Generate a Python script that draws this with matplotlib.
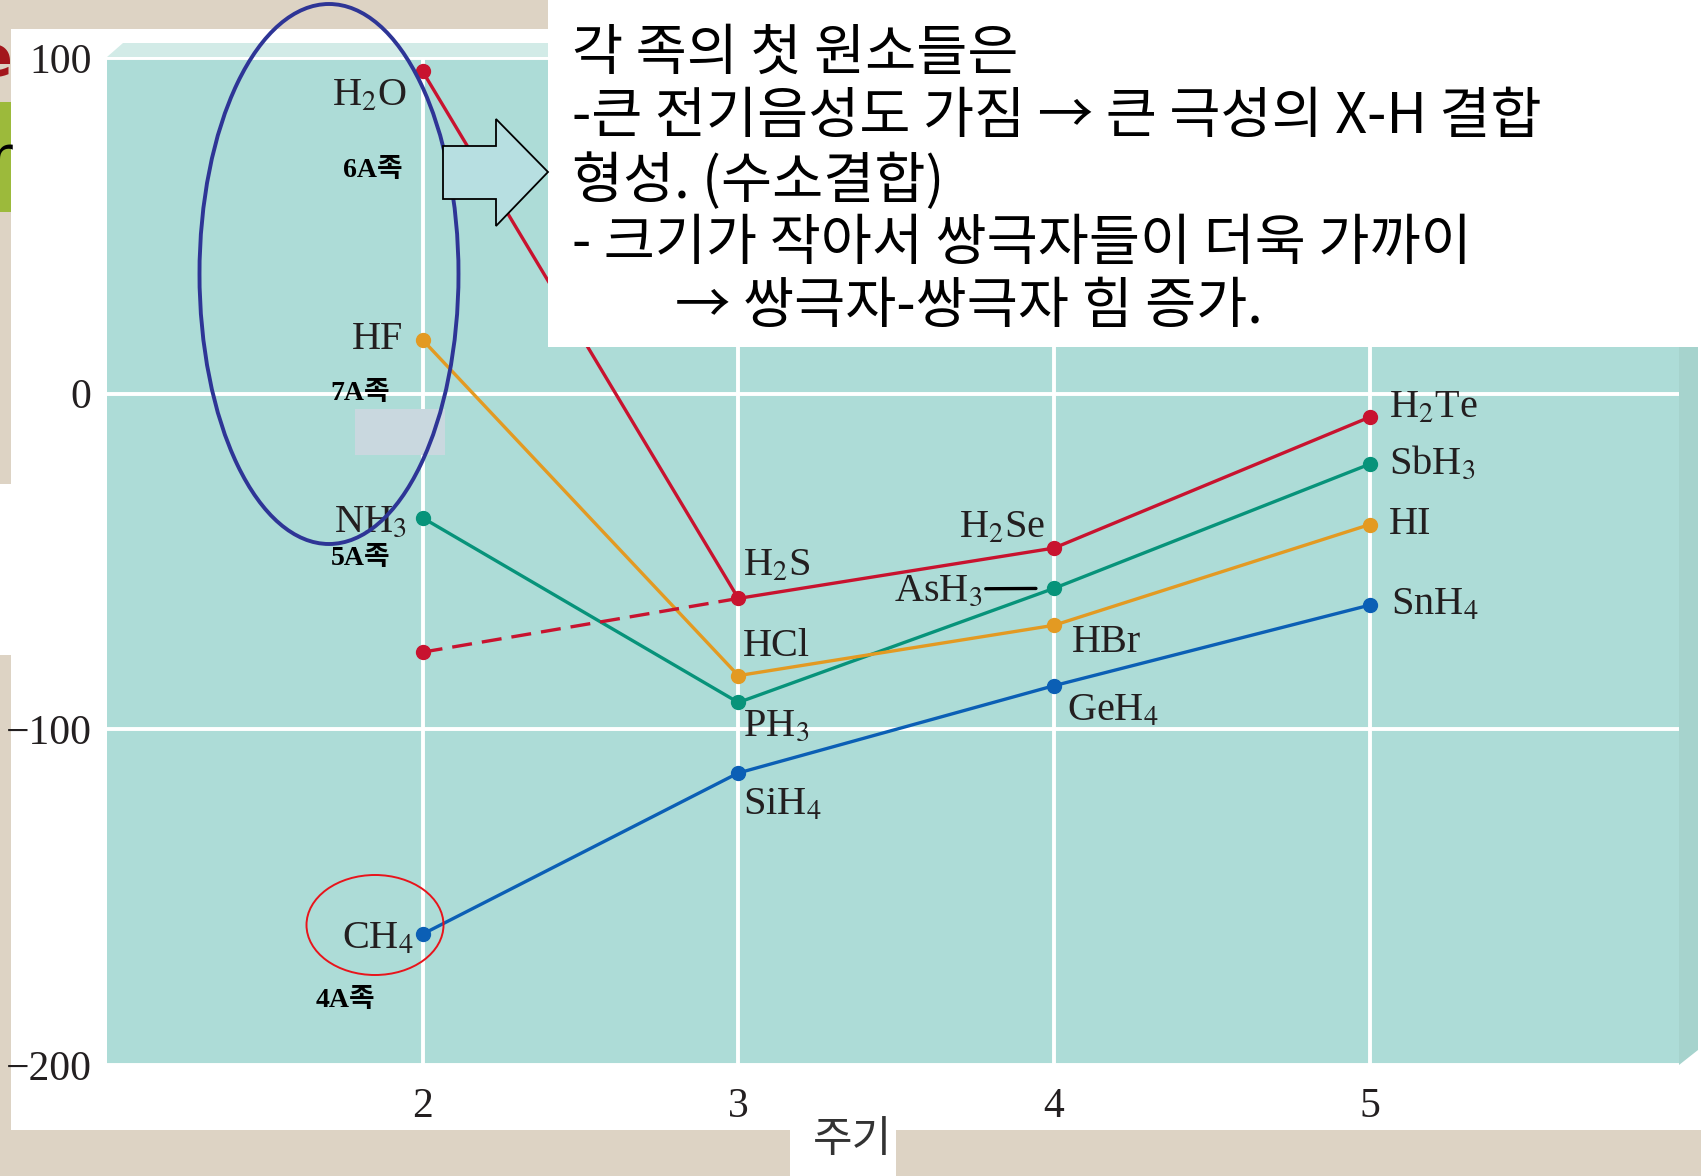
import matplotlib
matplotlib.use("Agg")
import matplotlib.pyplot as plt
from matplotlib.patches import Rectangle, Polygon, Ellipse

# Boiling points (deg C), periods 2-5
periods = [2, 3, 4, 5]
group4_bp = [-161, -113, -87, -63]
group5_bp = [-37, -92, -58, -21]
group6_bp = [96, -61, -46, -7]
group7_bp = [16, -84, -69, -39]
h2o_expected_bp = -77  # extrapolated value for H2O (dashed)

group4_names = ["CH$_4$", "SiH$_4$", "GeH$_4$", "SnH$_4$"]
group5_names = ["NH$_3$", "PH$_3$", "AsH$_3$", "SbH$_3$"]
group6_names = ["H$_2$O", "H$_2$S", "H$_2$Se", "H$_2$Te"]
group7_names = ["HF", "HCl", "HBr", "HI"]

group_tags = ["4A족", "5A족", "6A족", "7A족"]
y_ticks = [-200, -100, 0, 100]
x_label = "주기"

note_lines = [
    "각 족의 첫 원소들은",
    "-큰 전기음성도 가짐 → 큰 극성의 X-H 결합",
    "형성. (수소결합)",
    "- 크기가 작아서 쌍극자들이 더욱 가까이",
    "→ 쌍극자-쌍극자 힘 증가.",
]

COLORS = {
    "g4": "#0B5FB5",
    "g5": "#07937A",
    "g6": "#C8132F",
    "g7": "#E39A22",
}
TEAL = "#ADDCD7"
BEIGE = "#DDD3C4"
INK = "#231F20"

plt.rcParams["mathtext.fontset"] = "stix"
SERIF = ["Liberation Serif", "DejaVu Serif"]
KOR = ["Noto Sans CJK KR", "DejaVu Sans"]
TAG_FONT = ["Liberation Serif", "Noto Sans CJK KR"]

W, H = 1701, 1176
fig = plt.figure(figsize=(W / 100, H / 100), dpi=100, facecolor=BEIGE)


def fx(x):
    return x / W


def fy(y):
    return 1 - y / H


def px_rect(x0, y0, x1, y1, color, z):
    fig.add_artist(Rectangle((fx(x0), fy(y1)), fx(x1) - fx(x0), fy(y0) - fy(y1),
                             transform=fig.transFigure, facecolor=color,
                             edgecolor="none", zorder=z))


# slide background pieces
px_rect(11, 29, W, 1130, "white", -5)
px_rect(0, 102, 11, 212, "#9CBA3B", -5)
px_rect(0, 484, 11, 655, "white", -5)
fig.text(fx(12), fy(60), "e", color="#A3161C", fontsize=40, fontweight="bold",
         ha="right", va="center", family="DejaVu Sans", zorder=-4)
fig.text(fx(13), fy(160), "r", color="black", fontsize=40,
         ha="right", va="center", family="DejaVu Sans", zorder=-4)

# 3D top/right strips of the chart box
fig.add_artist(Polygon([(fx(123), fy(43)), (fx(W), fy(43)), (fx(W), fy(57)), (fx(107), fy(57))],
                       transform=fig.transFigure, facecolor="#D2EBE7", edgecolor="none", zorder=-3))
fig.add_artist(Polygon([(fx(1679), fy(57)), (fx(1698), fy(43)), (fx(1698), fy(1050)), (fx(1679), fy(1065))],
                       transform=fig.transFigure, facecolor="#A6D3CD", edgecolor="none", zorder=-3))

ax = fig.add_axes([fx(107), fy(1065), fx(1679) - fx(107), fy(58) - fy(1065)])
ax.set_facecolor(TEAL)
ax.set_xlim(1, 5.98)
ax.set_ylim(-200, 100)
for s in ax.spines.values():
    s.set_visible(False)
ax.set_xticks(periods)
ax.set_yticks(y_ticks)
ax.tick_params(length=0, labelsize=30, labelcolor=INK)
ax.tick_params(axis="y", pad=11)
ax.tick_params(axis="x", pad=16)
for lab in ax.get_xticklabels() + ax.get_yticklabels():
    lab.set_family(SERIF)
ax.grid(True, color="white", linewidth=2.8)
ax.set_axisbelow(True)

series = [
    (group4_bp, group4_names, COLORS["g4"]),
    (group5_bp, group5_names, COLORS["g5"]),
    (group6_bp, group6_names, COLORS["g6"]),
    (group7_bp, group7_names, COLORS["g7"]),
]
for vals, names, col in series:
    ax.plot(periods, vals, color=col, linewidth=2.4, marker="o", markersize=10, zorder=3)

ax.plot(periods[:2], [h2o_expected_bp, group6_bp[1]], color=COLORS["g6"], linewidth=2.4,
        linestyle=(0, (6, 3)), zorder=3)
ax.plot(periods[0], h2o_expected_bp, "o", color=COLORS["g6"], markersize=10, zorder=3)

# label offsets in pixels (dx, dy up), horizontal alignment
label_style = {
    "CH$_4$": (-9, -5, "right"), "SiH$_4$": (5, -32, "left"),
    "GeH$_4$": (13, -25, "left"), "SnH$_4$": (21, 0, "left"),
    "NH$_3$": (-16, -4, "right"), "PH$_3$": (5, -24, "left"),
    "SbH$_3$": (19, 0, "left"),
    "H$_2$O": (-16, -25, "right"), "H$_2$S": (5, 32, "left"),
    "H$_2$Se": (-9, 20, "right"), "H$_2$Te": (19, 9, "left"),
    "HF": (-19, 0, "right"), "HCl": (5, 29, "left"),
    "HBr": (18, -17, "left"), "HI": (19, 0, "left"),
}
for vals, names, col in series:
    for p, v, name in zip(periods, vals, names):
        if name == "AsH$_3$":
            ax.annotate(name, xy=(p, v), xytext=(-71 * 0.72, -3 * 0.72), textcoords="offset points",
                        ha="right", va="center", fontsize=29, color=INK, family=SERIF, zorder=4,
                        arrowprops=dict(arrowstyle="-", color="black", lw=2.4,
                                        relpos=(1, 0.57), shrinkA=0, shrinkB=13))
            continue
        dx, dy, ha = label_style[name]
        ax.annotate(name, xy=(p, v), xytext=(dx * 0.72, dy * 0.72), textcoords="offset points",
                    ha=ha, va="center", fontsize=29, color=INK, family=SERIF, zorder=4)

# group tags next to the period-2 hydrides
tag_pos = {"4A족": (318, 922), "5A족": (332, 515), "6A족": (344, 157), "7A족": (332, 363)}
for tag in group_tags:
    tx, ty = tag_pos[tag]
    fig.text(fx(tx * 1.0848), fy(ty * 1.0848), tag, fontsize=20, fontweight="bold",
             family=TAG_FONT, ha="center", va="center", color="black", zorder=4)

# small grey patch on the chart
px_rect(355, 409, 445, 455, "#C9D8DF", 2)

# x axis title on its own white box
px_rect(790, 1117, 896, H, "white", -4)
fig.text(fx(852), fy(1140), x_label, fontsize=31, family=KOR, color="#333333",
         ha="center", va="center")

# ellipses
fig.add_artist(Ellipse((fx(329), fy(274)), 259 / W, 540 / H, transform=fig.transFigure,
                       facecolor="none", edgecolor="#2E3596", linewidth=2.8, zorder=6))
fig.add_artist(Ellipse((fx(375), fy(925)), 137 / W, 100 / H, transform=fig.transFigure,
                       facecolor="none", edgecolor="#E8141B", linewidth=1.4, zorder=6))

# block arrow pointing to the note
arrow_pts = [(443, 146), (496, 146), (496, 119), (548, 172), (496, 226), (496, 199), (443, 199)]
fig.add_artist(Polygon([(fx(x), fy(y)) for x, y in arrow_pts], transform=fig.transFigure,
                       facecolor="#B7DFE1", edgecolor="black", linewidth=1.3, zorder=6))

# note box
px_rect(548, 0, W, 347, "white", 5)
note_x = [572, 572, 572, 572, 675]
note_y = [54, 117, 182, 244, 307]
for line, lx, ly in zip(note_lines, note_x, note_y):
    fig.text(fx(lx), fy(ly), line, fontsize=40, family=KOR, fontweight="medium",
             color="black", ha="left", va="center", zorder=7)

fig.savefig("out.png", dpi=100, facecolor=BEIGE)
